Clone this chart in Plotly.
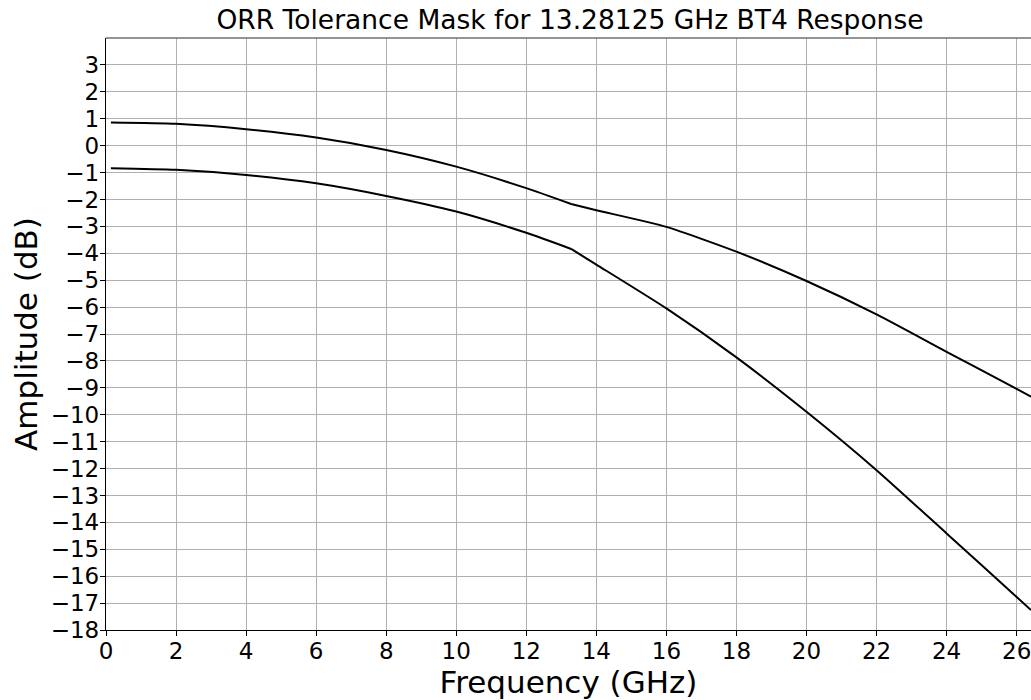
import plotly.graph_objects as go

# Frequencies (GHz)
freq = [0.14, 2, 4, 6, 8, 10, 12, 13.28125, 14, 16, 18, 20, 22, 24, 26, 26.41]
upper_db = [0.86, 0.81, 0.61, 0.30, -0.16, -0.78, -1.58, -2.17, -2.40, -3.02, -3.94, -5.03, -6.27, -7.66, -9.04, -9.33]
lower_db = [-0.84, -0.90, -1.09, -1.40, -1.87, -2.45, -3.24, -3.84, -4.42, -6.05, -7.87, -9.89, -12.06, -14.41, -16.77, -17.26]
break_freq = 13.28125

x_ticks = list(range(0, 27, 2))
y_ticks = list(range(-18, 4))

FONT = "DejaVu Sans"
fig = go.Figure()

bi = freq.index(break_freq)
for ys in (upper_db, lower_db):
    for seg in (slice(0, bi + 1), slice(bi, None)):
        fig.add_trace(go.Scatter(
            x=freq[seg], y=ys[seg], mode="lines",
            line=dict(color="black", width=2, shape="spline", smoothing=0.6),
            showlegend=False, hoverinfo="skip"))

fig.update_layout(
    width=1031, height=700,
    margin=dict(l=106, r=0, t=38, b=70),
    plot_bgcolor="white", paper_bgcolor="white",
    font=dict(family=FONT, color="black"),
    title=dict(text="ORR Tolerance Mask for 13.28125 GHz BT4 Response",
               x=570 / 1031, xanchor="center", xref="container",
               y=1 - 20 / 700, yanchor="middle", yref="container",
               font=dict(family=FONT, size=26.5, color="black")),
    xaxis=dict(
        range=[0, 26.41], tickvals=x_ticks, ticktext=[str(v) for v in x_ticks],
        showgrid=True, gridcolor="#b0b0b0", gridwidth=1.1,
        showline=True, linecolor="black", linewidth=1.3,
        ticks="outside", ticklen=5, tickcolor="black", tickwidth=1.1,
        ticklabelstandoff=-5, ticklabeloverflow="allow",
        tickfont=dict(family=FONT, size=23, color="black"),
        title=dict(text="Frequency (GHz)", font=dict(family=FONT, size=31, color="black"), standoff=0),
        zeroline=False,
    ),
    yaxis=dict(
        range=[-18, 4], tickvals=y_ticks,
        showgrid=True, gridcolor="#b0b0b0", gridwidth=1.1,
        showline=True, linecolor="black", linewidth=1.3,
        ticks="outside", ticklen=5, tickcolor="black", tickwidth=1.1,
        ticklabelstandoff=-4, ticklabeloverflow="allow",
        tickfont=dict(family=FONT, size=23, color="black"),
        title=dict(text="Amplitude (dB)", font=dict(family=FONT, size=31, color="black"), standoff=3),
        zeroline=False,
    ),
    shapes=[dict(type="line", xref="paper", yref="paper", x0=0, x1=1, y0=1, y1=1,
                 line=dict(color="#707070", width=1.3))],
)

fig.write_html("out.html", config={"displayModeBar": False},
               post_script="document.body.style.margin='0';document.body.style.overflow='hidden';")
